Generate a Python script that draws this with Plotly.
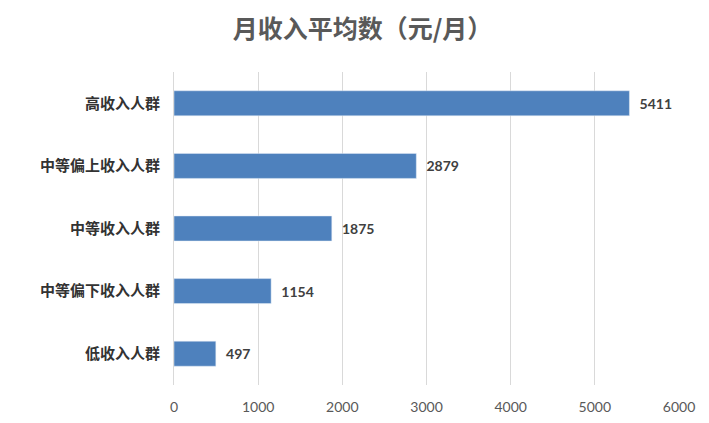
import plotly.graph_objects as go

categories = ["低收入人群", "中等偏下收入人群", "中等收入人群", "中等偏上收入人群", "高收入人群"]
values = [497, 1154, 1875, 2879, 5411]
ticks = [0, 1000, 2000, 3000, 4000, 5000, 6000]

fig = go.Figure(go.Bar(
    y=categories, x=values, orientation="h",
    marker_color="#4e81bd",
    text=[f"  <b>{v}</b>" for v in values], textposition="outside",
    textfont=dict(family="Lato, DejaVu Sans", size=14, color="#404040"),
    cliponaxis=False,
))
fig.update_layout(
    width=709, height=423,
    margin=dict(l=166, r=38, t=64, b=46),
    paper_bgcolor="white", plot_bgcolor="white",
    bargap=0.6, showlegend=False,
    title=dict(text="<b>月收入平均数（元/月）</b>", x=0.5, xanchor="center", y=0.95, yanchor="middle",
               font=dict(family="Noto Sans CJK SC", size=25, color="#595959")),
    xaxis=dict(range=[0, 6000], tickvals=ticks, showgrid=True, gridcolor="#d9d9d9", automargin=False,
               zeroline=False, tickfont=dict(family="Lato, DejaVu Sans", size=14, color="#595959")),
    yaxis=dict(showline=True, linecolor="#d9d9d9", ticks="", ticklen=0, automargin=False,
               tickfont=dict(family="Noto Sans CJK SC", size=15, color="#333333")),
)
fig.update_xaxes(ticklabelstandoff=12)
fig.update_yaxes(ticklabelstandoff=10, tickvals=categories, ticktext=[f"<b>{c}</b>" for c in categories])
fig.write_html("out.html")
